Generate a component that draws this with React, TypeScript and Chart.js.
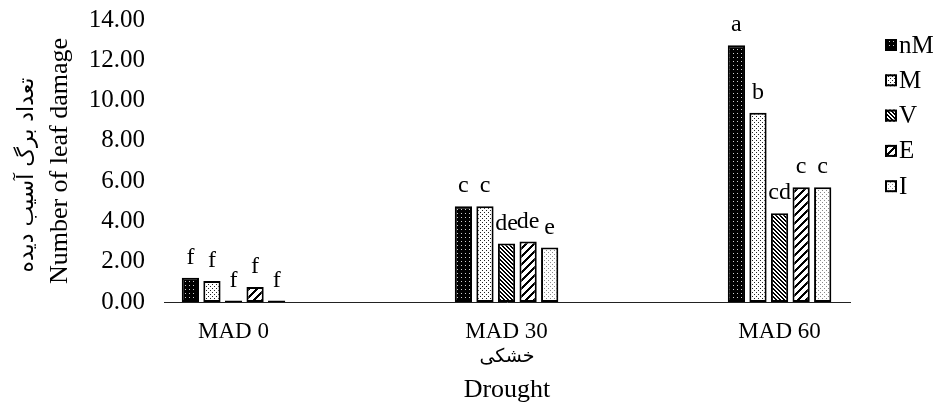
import { useEffect, useRef } from 'react';
import { Chart, registerables } from 'chart.js';

Chart.register(...registerables);

const categories = ['MAD 0', 'MAD 30', 'MAD 60'];
const seriesNames = ['nM', 'M', 'V', 'E', 'I'];
const valuesNM = [1.2, 4.75, 12.75];
const valuesM = [1.04, 4.75, 9.4];
const valuesV = [0.07, 2.9, 4.4];
const valuesE = [0.74, 3.0, 5.7];
const valuesI = [0.07, 2.7, 5.7];
const lettersNM = ['f', 'c', 'a'];
const lettersM = ['f', 'c', 'b'];
const lettersV = ['f', 'de', 'cd'];
const lettersE = ['f', 'de', 'c'];
const lettersI = ['f', 'e', 'c'];
const yMin = 0;
const yMax = 14;
const yStep = 2;
const yTitle = 'Number of leaf damage';
const yTitleFa = 'تعداد برگ آسیب دیده';
const xTitle = 'Drought';
const xTitleFa = 'خشکی';

const SERIF = '"Liberation Serif", "Times New Roman", serif';

function makePattern(kind: string): CanvasPattern | string {
  const size = kind === 'E' ? 8 : 4;
  const c = document.createElement('canvas');
  c.width = size;
  c.height = size;
  const g = c.getContext('2d');
  if (!g) return '#888';
  g.fillStyle = kind === 'nM' ? '#000' : '#fff';
  g.fillRect(0, 0, size, size);
  for (let y = 0; y < size; y++) {
    for (let x = 0; x < size; x++) {
      let on = false;
      let col = '#000';
      if (kind === 'nM') {
        on = x === 1 && y === 1;
        col = '#d0d0d0';
      } else if (kind === 'M') {
        on = (x === 0 && y === 0) || (x === 2 && y === 2);
        col = '#222';
      } else if (kind === 'V') {
        on = ((x - y + size) % size) < 2;
      } else if (kind === 'E') {
        on = ((x + y) % size) < 3;
      } else if (kind === 'I') {
        on = (x === 0 && y === 0) || (x === 2 && y === 2);
        col = '#8a8a8a';
      }
      if (on) {
        g.fillStyle = col;
        g.fillRect(x, y, 1, 1);
      }
    }
  }
  const ctx = document.createElement('canvas').getContext('2d');
  const p = ctx ? ctx.createPattern(c, 'repeat') : null;
  return p || '#888';
}

export default function App() {
  const ref = useRef<HTMLCanvasElement | null>(null);

  useEffect(() => {
    const canvas = ref.current;
    if (!canvas) return;
    const seriesValues = [valuesNM, valuesM, valuesV, valuesE, valuesI];
    const seriesLetters = [lettersNM, lettersM, lettersV, lettersE, lettersI];

    const datasets = seriesNames.map((name, si) => ({
      label: name,
      data: seriesValues[si].map((v, i) => ({ x: i, y: v })),
      backgroundColor: makePattern(name),
      borderColor: '#000',
      borderWidth: 2,
      borderSkipped: false as const,
      categoryPercentage: 0.395,
      barPercentage: 0.8,
    }));

    const lettersPlugin = {
      id: 'letters',
      afterDatasetsDraw(chart: any) {
        const ctx = chart.ctx;
        ctx.save();
        ctx.font = `24px ${SERIF}`;
        ctx.fillStyle = '#000';
        ctx.textAlign = 'center';
        ctx.textBaseline = 'alphabetic';
        chart.data.datasets.forEach((_: any, di: number) => {
          const meta = chart.getDatasetMeta(di);
          meta.data.forEach((el: any, i: number) => {
            ctx.fillText(seriesLetters[di][i], el.x, el.y - 14);
          });
        });
        ctx.restore();
      },
    };

    const extrasPlugin = {
      id: 'extras',
      afterDraw(chart: any) {
        const ctx = chart.ctx;
        const area = chart.chartArea;
        const xs = chart.scales.x;
        const ys = chart.scales.y;
        ctx.save();
        ctx.fillStyle = '#000';
        ctx.font = `22px "DejaVu Sans", sans-serif`;
        ctx.textAlign = 'center';
        ctx.textBaseline = 'middle';
        ctx.translate(ys.left + 27, (area.top + area.bottom) / 2 + 14);
        ctx.rotate(-Math.PI / 2);
        ctx.fillText(yTitleFa, 0, 0);
        ctx.restore();

        ctx.save();
        ctx.fillStyle = '#000';
        ctx.font = `19px "DejaVu Sans", sans-serif`;
        ctx.textAlign = 'center';
        ctx.textBaseline = 'middle';
        ctx.fillText(xTitleFa, (area.left + area.right) / 2, xs.bottom - 48);
        ctx.restore();

        ctx.save();
        chart.data.datasets.forEach((ds: any, i: number) => {
          const bx = area.right + 35;
          const by = area.top + 25 + i * 35.3;
          ctx.fillStyle = ds.backgroundColor;
          ctx.fillRect(bx, by - 6, 12, 12);
          ctx.strokeStyle = '#000';
          ctx.lineWidth = 2;
          ctx.strokeRect(bx + 1, by - 5, 10, 10);
          ctx.fillStyle = '#000';
          ctx.font = `25px ${SERIF}`;
          ctx.textAlign = 'left';
          ctx.textBaseline = 'middle';
          ctx.fillText(ds.label, bx + 14, by + 1);
        });
        ctx.restore();
      },
    };

    const chart = new Chart(canvas, {
      type: 'bar',
      data: { datasets: datasets as any },
      plugins: [lettersPlugin, extrasPlugin],
      options: {
        animation: false,
        responsive: true,
        maintainAspectRatio: false,
        layout: { padding: { top: 20, right: 90, bottom: 0, left: 0 } },
        plugins: {
          legend: { display: false },
          tooltip: { enabled: false },
        },
        scales: {
          x: {
            type: 'linear',
            offset: false,
            min: -0.2546,
            max: 2.258,
            afterBuildTicks: (scale: any) => {
              scale.ticks = categories.map((_, i) => ({ value: i }));
            },
            afterFit: (scale: any) => {
              scale.height = 103;
              scale.paddingLeft = 0;
              scale.paddingRight = 0;
            },
            grid: { display: false, drawTicks: false, offset: false },
            border: { display: true, color: '#222', width: 1 },
            ticks: {
              autoSkip: false,
              maxRotation: 0,
              padding: 16,
              color: '#000',
              font: { family: SERIF, size: 23 },
              callback: (v: any) => categories[Math.round(Number(v))] ?? '',
            },
            title: {
              display: true,
              text: xTitle,
              color: '#000',
              font: { family: SERIF, size: 26, lineHeight: 1.2 },
              padding: { top: 0, bottom: -1 },
            },
          },
          y: {
            min: yMin,
            max: yMax,
            afterFit: (scale: any) => {
              scale.width = 164;
              scale.paddingTop = 0;
              scale.paddingBottom = 0;
            },
            grid: { display: false, drawTicks: false },
            border: { display: false },
            ticks: {
              stepSize: yStep,
              padding: 19,
              color: '#000',
              font: { family: SERIF, size: 25 },
              callback: (v: any) => Number(v).toFixed(2),
            },
            title: {
              display: true,
              text: yTitle,
              color: '#000',
              font: { family: SERIF, size: 26, lineHeight: 1.2 },
              padding: { top: 45, bottom: 0 },
            },
          },
        },
      },
    });
    return () => chart.destroy();
  }, []);

  return (
    <div style={{ position: 'fixed', left: 0, top: 0, width: 940, height: 405, background: '#fff' }}>
      <canvas ref={ref} />
    </div>
  );
}
